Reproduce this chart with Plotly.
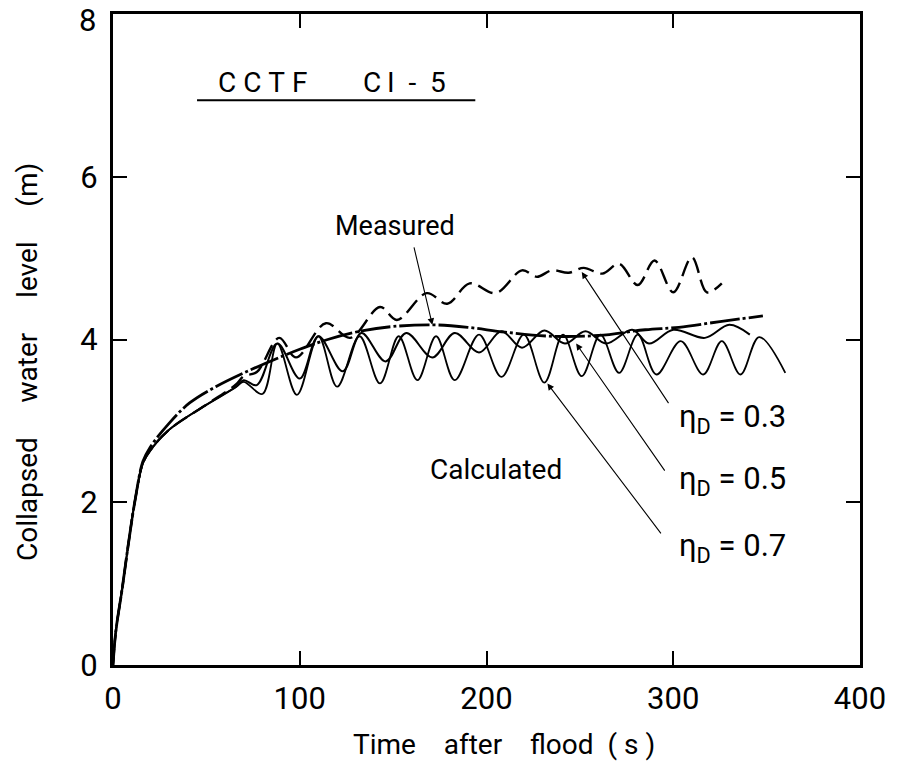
import plotly.graph_objects as go

# ---- data ----
meas_t = [0, 1, 2, 5, 8, 12, 16, 20, 30, 41, 55, 70, 84, 100, 115, 134, 150, 171, 190, 210, 235, 260, 285, 303, 325, 348]
meas_v = [0, 0.3, 0.5, 0.95, 1.45, 2.05, 2.5, 2.68, 2.97, 3.22, 3.42, 3.59, 3.73, 3.88, 4.0, 4.11, 4.16, 4.18, 4.15, 4.09, 4.04, 4.05, 4.12, 4.15, 4.22, 4.29]

eta03_t = [0, 1, 2, 5, 8, 12, 16, 20, 30, 48, 66, 70, 77, 89, 98, 114, 127, 143, 152, 168, 179, 191, 205, 219, 227, 235, 244, 252, 262, 271, 281, 290, 300, 310, 318, 326]
eta03_v = [0, 0.3, 0.5, 0.95, 1.45, 2.05, 2.48, 2.64, 2.89, 3.17, 3.45, 3.55, 3.6, 4.02, 3.78, 4.2, 4.02, 4.4, 4.24, 4.57, 4.44, 4.69, 4.57, 4.85, 4.77, 4.85, 4.82, 4.88, 4.81, 4.93, 4.67, 4.97, 4.58, 5.01, 4.58, 4.69]

eta05_t = [0, 1, 2, 5, 8, 12, 16, 20, 30, 48, 66, 70, 77, 88, 100, 110, 123, 133, 146, 157, 171, 183, 196, 208, 219, 231, 242, 253, 264, 278, 287, 300, 317, 330, 341]
eta05_v = [0, 0.3, 0.5, 0.95, 1.45, 2.05, 2.48, 2.64, 2.89, 3.17, 3.42, 3.5, 3.44, 3.95, 3.52, 4.04, 3.61, 4.08, 3.73, 4.08, 3.78, 4.08, 3.84, 4.1, 3.9, 4.11, 3.95, 4.1, 3.95, 4.12, 3.95, 4.12, 4.02, 4.18, 4.06]

eta07_t = [0, 1, 2, 5, 8, 12, 16, 20, 30, 48, 66, 70, 80, 88, 98.5, 110, 120, 132, 143, 153, 163, 173, 183, 196, 208, 220, 231, 241, 251, 261, 271, 281, 291, 304, 316, 326, 336, 346, 360]
eta07_v = [0, 0.3, 0.5, 0.95, 1.45, 2.05, 2.48, 2.64, 2.89, 3.17, 3.42, 3.48, 3.33, 3.95, 3.32, 4.04, 3.42, 4.04, 3.46, 4.04, 3.5, 4.04, 3.5, 4.06, 3.54, 4.06, 3.47, 4.06, 3.55, 4.06, 3.59, 4.06, 3.57, 3.98, 3.57, 3.98, 3.57, 4.03, 3.59]

x_ticks = [0, 100, 200, 300, 400]
y_ticks = [0, 2, 4, 6, 8]

FONT = "Roboto, Liberation Sans, sans-serif"
NB = "\u00a0"

fig = go.Figure()
fig.add_trace(go.Scatter(x=eta07_t, y=eta07_v, mode="lines", line=dict(color="black", width=1.8, shape="spline"), name="eta 0.7"))
fig.add_trace(go.Scatter(x=eta05_t, y=eta05_v, mode="lines", line=dict(color="black", width=2, shape="spline"), name="eta 0.5"))
fig.add_trace(go.Scatter(x=eta03_t, y=eta03_v, mode="lines", line=dict(color="black", width=2.4, shape="spline", dash="16px,7px"), name="eta 0.3"))
fig.add_trace(go.Scatter(x=meas_t, y=meas_v, mode="lines", line=dict(color="black", width=2.8, shape="spline", dash="30px,3px,3px,3px"), name="Measured"))

ann = []
def label(text, x, y, size=27, xanchor="center"):
    ann.append(dict(text=text, x=x, y=y, xref="x", yref="y", showarrow=False,
                    xanchor=xanchor, yanchor="middle", font=dict(family=FONT, size=size, color="black")))

def arrow(tx, ty, hx, hy):
    ann.append(dict(text="", x=hx, y=hy, ax=tx, ay=ty, xref="x", yref="y", axref="x", ayref="y",
                    showarrow=True, arrowhead=2, arrowsize=1.2, arrowwidth=1.1, arrowcolor="black", standoff=0))

label("C" + NB + "C" + NB + "T" + NB + "F" + NB * 8 + "C\u2009I" + NB * 2 + "-" + NB * 2 + "5", 117, 7.16, size=28)
label("Measured", 151, 5.39, size=27)
label("Calculated", 205, 2.40, size=28)
label("η<sub>D</sub> = 0.3", 302, 3.03, size=31, xanchor="left")
label("η<sub>D</sub> = 0.5", 302, 2.27, size=31, xanchor="left")
label("η<sub>D</sub> = 0.7", 302, 1.44, size=31, xanchor="left")

arrow(161, 5.15, 171, 4.18)
arrow(298, 3.20, 251, 4.83)
arrow(296, 2.37, 248, 3.95)
arrow(294, 1.60, 232.6, 3.46)

W, H = 898, 767
L, R, T, B = 113, 38, 14, 102
pw, ph = W - L - R, H - T - B
def title(text, px, py, angle=0, size=28, xanchor="center"):
    ann.append(dict(text=text, x=(px - L) / pw, y=(H - B - py) / ph, xref="paper", yref="paper",
                    xanchor=xanchor, yanchor="middle", showarrow=False, textangle=angle,
                    font=dict(family=FONT, size=size, color="black")))

# top y tick label (drawn as annotation so it is not dropped at the frame edge)
title(str(y_ticks[-1]), 98, 21, size=31, xanchor="right")

title("Collapsed" + NB * 5 + "water" + NB * 5 + "level" + NB * 5 + "(m)", 27, 362, angle=-90)
title("Time" + NB * 4 + "after" + NB * 4 + "flood" + NB * 2 + "(" + NB + "s" + NB + ")", 504, 744)

fig.add_shape(type="line", x0=45, x1=194, y0=6.94, y1=6.94, xref="x", yref="y", line=dict(color="black", width=2))

axis_common = dict(showgrid=False, zeroline=False, showline=True, linecolor="black", linewidth=3, mirror="ticks",
                   ticks="inside", ticklen=14, tickwidth=1.5, tickcolor="black",
                   tickfont=dict(family=FONT, size=31, color="black"))
fig.update_layout(
    width=W, height=H, margin=dict(l=L, r=R, t=T, b=B),
    paper_bgcolor="white", plot_bgcolor="white", showlegend=False,
    annotations=ann,
    xaxis=dict(range=[0, 400], tickvals=x_ticks, ticktext=[str(v) for v in x_ticks], ticklabelstandoff=4, **axis_common),
    yaxis=dict(range=[0, 8], tickvals=y_ticks[:-1], ticktext=[str(v) for v in y_ticks[:-1]], ticklabelstandoff=6, **axis_common),
)
fig.write_html("out.html")
